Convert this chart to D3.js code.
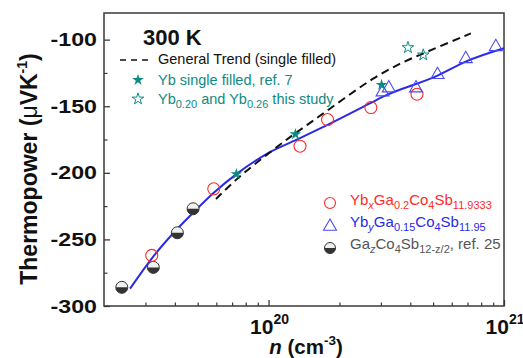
<!DOCTYPE html>
<html><head><meta charset="utf-8">
<script src="https://cdn.jsdelivr.net/npm/d3@7"></script>
<style>
html,body{margin:0;padding:0;background:#fff;}
svg{display:block;font-family:Arial,"Liberation Sans",sans-serif;}
</style></head>
<body><svg id="c" width="523" height="358"></svg>
<script>
// ---- data ----
const yTicks = [-300, -250, -200, -150, -100];
const yMinor = [-275, -225, -175, -125];
const xMajor = [1e20, 1e21];
const xMajorExp = ["20", "21"];
const xMinor = [3e19,4e19,5e19,6e19,7e19,8e19,9e19,2e20,3e20,4e20,5e20,6e20,7e20,8e20,9e20];

const gaN = [2.38e19, 3.24e19, 4.1e19, 4.78e19];
const gaS = [-286, -271, -245, -227];

const redN = [3.19e19, 5.85e19, 1.36e20, 1.78e20, 2.72e20, 4.27e20];
const redS = [-262, -212, -180, -160, -151, -141];

const triN = [3.05e20, 3.24e20, 4.23e20, 5.22e20, 6.88e20, 9.23e20];
const triS = [-139, -136, -136, -126, -114, -105];

const starN = [7.3e19, 1.30e20, 3.02e20];
const starS = [-201, -171, -134];

const openStarN = [3.91e20, 4.54e20];
const openStarS = [-106, -111.5];

const fitN = [2.58e19, 3.2e19, 4.1e19, 4.78e19, 5.85e19, 7.3e19, 1.0e20, 1.36e20, 1.78e20, 2.72e20, 3.05e20, 5.22e20, 6.88e20, 1e21];
const fitS = [-287, -264, -242, -230, -215, -201, -185, -174, -164, -147.5, -143, -127, -116.5, -106.5];

const trendN = [5.98e19, 7.35e19, 9.8e19, 1.27e20, 1.64e20, 2.13e20, 2.77e20, 3.59e20, 4.54e20, 7.23e20];
const trendS = [-219.6, -204, -186.5, -171.4, -157.7, -143.2, -129, -118, -110.3, -95.3];

// ---- drawing ----
const svg = d3.select("#c");
const x = d3.scaleLog().domain([2e19, 1e21]).range([104, 504]);
const y = d3.scaleLinear().domain([-300, -80]).range([306, 13]);

const teal = "#0e8a84", red = "#ff2a2a", blue = "#2a2ae6", grayT = "#555";

// frame
svg.append("rect").attr("x",104).attr("y",13).attr("width",400).attr("height",293)
  .attr("fill","none").attr("stroke","#3a3a3a").attr("stroke-width",1.5);

// y axis
const yAx = svg.append("g").attr("transform","translate(104,0)")
  .call(d3.axisLeft(y).tickValues(yTicks).tickSize(-6).tickPadding(7).tickFormat(d => String(d).replace("\u2212","-")));
yAx.select(".domain").remove();
yAx.selectAll("line").attr("stroke","#3a3a3a").attr("stroke-width",1.3);
yAx.selectAll("text").attr("font-size",19).attr("font-weight","bold").attr("fill","#111")
  .attr("font-family","Arial,'Liberation Sans',sans-serif")
  .attr("x",0).attr("transform","translate(-7,0) scale(1.22,1)");
const yMin = svg.append("g").attr("transform","translate(104,0)")
  .call(d3.axisLeft(y).tickValues(yMinor).tickSize(-3.5).tickFormat(""));
yMin.select(".domain").remove();
yMin.selectAll("line").attr("stroke","#3a3a3a").attr("stroke-width",1.2);

// x axis
const xAx = svg.append("g").attr("transform","translate(0,306)")
  .call(d3.axisBottom(x).tickValues(xMajor).tickSize(-6).tickFormat(""));
xAx.select(".domain").remove();
xAx.selectAll("line").attr("stroke","#3a3a3a").attr("stroke-width",1.3);
const xMin = svg.append("g").attr("transform","translate(0,306)")
  .call(d3.axisBottom(x).tickValues(xMinor).tickSize(-3.5).tickFormat(""));
xMin.select(".domain").remove();
xMin.selectAll("line").attr("stroke","#3a3a3a").attr("stroke-width",1.2);

xMajor.forEach((v,i) => {
  const t = svg.append("text").attr("x", x(v) + 1).attr("y", 333.5).attr("text-anchor","middle")
    .attr("font-size",21).attr("font-weight","bold").attr("fill","#111");
  t.append("tspan").text("10");
  t.append("tspan").attr("font-size",14).attr("dy",-10).text(xMajorExp[i]);
});

// axis titles
const xt = svg.append("text").attr("x",306).attr("y",353.5).attr("text-anchor","middle")
  .attr("font-size",20.5).attr("font-weight","bold").attr("fill","#111");
xt.append("tspan").attr("font-style","italic").text("n");
xt.append("tspan").text(" (cm");
xt.append("tspan").attr("font-size",13.5).attr("dy",-9).text("-3");
xt.append("tspan").attr("dy",9).text(")");

const yt = svg.append("text").attr("transform","translate(37,169) rotate(-90)").attr("text-anchor","middle")
  .attr("font-size",23).attr("font-weight","bold").attr("fill","#111");
yt.append("tspan").text("Thermopower (");
yt.append("tspan").attr("font-weight","normal").text("\u03bc");
yt.append("tspan").text("VK");
yt.append("tspan").attr("font-size",14).attr("dy",-10).text("-1");
yt.append("tspan").attr("dy",10).text(")");

// curves
const line = d3.line().x(d => x(d[0])).y(d => y(d[1]));
svg.append("path").datum(fitN.map((n,i)=>[n,fitS[i]]))
  .attr("d", line.curve(d3.curveMonotoneX)).attr("fill","none").attr("stroke",blue).attr("stroke-width",2);
svg.append("path").datum(trendN.map((n,i)=>[n,trendS[i]]))
  .attr("d", line.curve(d3.curveBasis)).attr("fill","none").attr("stroke","#111").attr("stroke-width",2)
  .attr("stroke-dasharray","8,5");

// markers
const tri = "M0,-7L6.5,4.3L-6.5,4.3Z";
const starSym = d3.symbol().type(d3.symbolStar).size(42)();
function halfCircle(g, cx, cy, r) {
  g.append("circle").attr("cx",cx).attr("cy",cy).attr("r",r).attr("fill","#f0f0f0").attr("stroke","#333").attr("stroke-width",1);
  g.append("path").attr("d",`M${cx-r},${cy}A${r},${r} 0 0 0 ${cx+r},${cy}Z`).attr("fill","#333");
}
const mk = svg.append("g");
gaN.forEach((n,i)=> halfCircle(mk, x(n), y(gaS[i]), 6));
redN.forEach((n,i)=> mk.append("circle").attr("cx",x(n)).attr("cy",y(redS[i])).attr("r",6)
  .attr("fill","none").attr("stroke",red).attr("stroke-width",1.1));
triN.forEach((n,i)=> mk.append("path").attr("d",tri).attr("transform",`translate(${x(n)},${y(triS[i])})`)
  .attr("fill","none").attr("stroke","#4a4af5").attr("stroke-width",1.1));
starN.forEach((n,i)=> mk.append("path").attr("d",starSym).attr("transform",`translate(${x(n)},${y(starS[i])})`)
  .attr("fill",teal));
openStarN.forEach((n,i)=> mk.append("path").attr("d",starSym).attr("transform",`translate(${x(openStarN[i])},${y(openStarS[i])})`)
  .attr("fill","none").attr("stroke",teal).attr("stroke-width",1));

// title
svg.append("text").attr("x",143).attr("y",45).attr("font-size",22).attr("font-weight","bold").attr("fill","#111").text("300 K");

// left legend
svg.append("line").attr("x1",120).attr("x2",152).attr("y1",60).attr("y2",60)
  .attr("stroke","#111").attr("stroke-width",1.6).attr("stroke-dasharray","6,5");
svg.append("text").attr("x",158).attr("y",64).attr("font-size",14.5).attr("fill","#111").text("General Trend (single filled)");
svg.append("path").attr("d",starSym).attr("transform","translate(138,80)").attr("fill",teal);
svg.append("text").attr("x",158).attr("y",85).attr("font-size",14.5).attr("fill",teal).text("Yb single filled, ref. 7");
svg.append("path").attr("d",starSym).attr("transform","translate(138,99)").attr("fill","none").attr("stroke",teal).attr("stroke-width",1);
const l3 = svg.append("text").attr("x",158).attr("y",104).attr("font-size",14.5).attr("fill",teal);
l3.append("tspan").text("Yb");
l3.append("tspan").attr("font-size",11).attr("dy",4).text("0.20");
l3.append("tspan").attr("dy",-4).text(" and Yb");
l3.append("tspan").attr("font-size",11).attr("dy",4).text("0.26");
l3.append("tspan").attr("dy",-4).text(" this study");

// right legend
function chem(tx, parts) {
  parts.forEach(p => {
    if (p[1]) tx.append("tspan").attr("font-size",11).attr("dy",4).attr("font-style",p[2]?"italic":null).text(p[0]);
    else tx.append("tspan").attr("dy", tx.selectAll("tspan").size() ? -4 : 0).text(p[0]);
  });
}
mk.append("circle").attr("cx",330).attr("cy",203).attr("r",5.5).attr("fill","none").attr("stroke",red).attr("stroke-width",1.1);
const r1 = svg.append("text").attr("x",350).attr("y",209).attr("font-size",15).attr("fill",red);
chem(r1, [["Yb"],["x",1,1],["Ga"],["0.2",1],["Co"],["4",1],["Sb"],["11.9333",1]]);
svg.append("path").attr("d",tri).attr("transform","translate(330,226)").attr("fill","none").attr("stroke","#4a4af5").attr("stroke-width",1.1);
const r2 = svg.append("text").attr("x",350).attr("y",231).attr("font-size",15).attr("fill",blue);
chem(r2, [["Yb"],["y",1,1],["Ga"],["0.15",1],["Co"],["4",1],["Sb"],["11.95",1]]);
halfCircle(svg, 330, 248, 5.5);
const r3 = svg.append("text").attr("x",350).attr("y",253).attr("font-size",15).attr("fill",grayT);
chem(r3, [["Ga"],["z",1,1],["Co"],["4",1],["Sb"],["12-z/2",1],[", ref. 25"]]);
</script></body></html>
